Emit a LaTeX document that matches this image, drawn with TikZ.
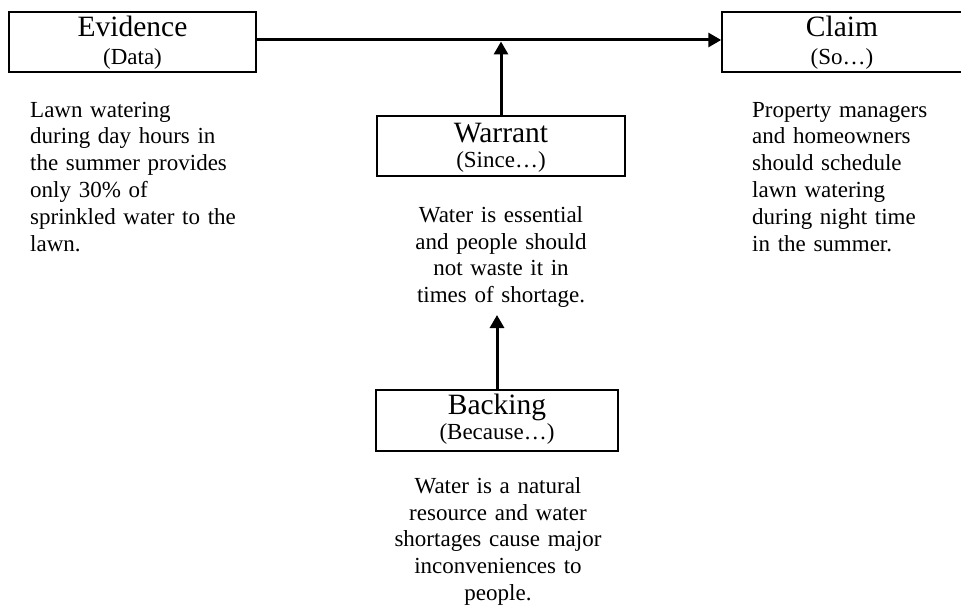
\documentclass[tikz,border=0pt]{standalone}
\usepackage{fontspec}
\setmainfont{Liberation Serif}
\usetikzlibrary{arrows.meta}
\begin{document}
\begin{tikzpicture}[x=1pt,y=-1pt,
  box/.style={draw, line width=1.5pt, rectangle, inner sep=0pt},
  ttl/.style={font=\fontsize{29.5}{32}\selectfont, inner sep=0pt, anchor=base},
  subttl/.style={font=\fontsize{23}{26}\selectfont, inner sep=0pt, anchor=base},
  body/.style={font=\fontsize{23}{26.8}\selectfont, inner sep=0pt},
  conn/.style={line width=3pt, -{Triangle[length=13pt,width=14pt]}}
]
\useasboundingbox (0,0) rectangle (961,607);
\fill[white] (0,0) rectangle (961,607);

% boxes
\node[box, minimum width=247pt, minimum height=60pt] (ev) at (132.5,42) {};
\node[box, minimum width=240pt, minimum height=60pt] (cl) at (842,42) {};
\node[box, minimum width=248pt, minimum height=60pt] (wa) at (501,146) {};
\node[box, minimum width=242pt, minimum height=61pt] (bk) at (497,420.5) {};

% titles
\node[ttl] (evT) at ([yshift=-25pt]ev.north) {Evidence};
\node[subttl] (evS) at ([yshift=-53pt]ev.north) {(Data)};
\node[ttl] (clT) at ([yshift=-25pt]cl.north) {Claim};
\node[subttl] (clS) at ([yshift=-53pt]cl.north) {(So…)};
\node[ttl] (waT) at ([yshift=-27pt]wa.north) {Warrant};
\node[subttl] (waS) at ([yshift=-52pt]wa.north) {(Since…)};
\node[ttl] (bkT) at ([yshift=-25pt]bk.north) {Backing};
\node[subttl] (bkS) at ([yshift=-50pt]bk.north) {(Because…)};

% body texts
\node[body, align=left, text width=235pt, anchor=north west] (evtx) at (30,98.24)
  {\strut Lawn watering\\during day hours in\\the summer provides\\only 30\% of\\sprinkled water to the\\lawn.};
\node[body, align=left, text width=205pt, anchor=north west] (cltx) at (752,98.24)
  {\strut Property managers\\and homeowners\\should schedule\\lawn watering\\during night time\\in the summer.};
\node[body, align=center, text width=230pt, anchor=north] (watx) at (501,203.24)
  {\strut Water is essential\\and people should\\not waste it in\\times of shortage.};
\node[body, align=center, text width=240pt, anchor=north] (bktx) at (498,474.24)
  {\strut Water is a natural\\resource and water\\shortages cause major\\inconveniences to\\people.};

% connectors
\draw[conn] ([yshift=2pt]ev.east) -- ([yshift=2pt]cl.west);
\coordinate (wtip) at (501,41.5);
\draw[conn] (wa.north) -- (wtip);
\coordinate (btip) at (497,315);
\draw[conn] (bk.north) -- (btip);
\end{tikzpicture}
\end{document}
